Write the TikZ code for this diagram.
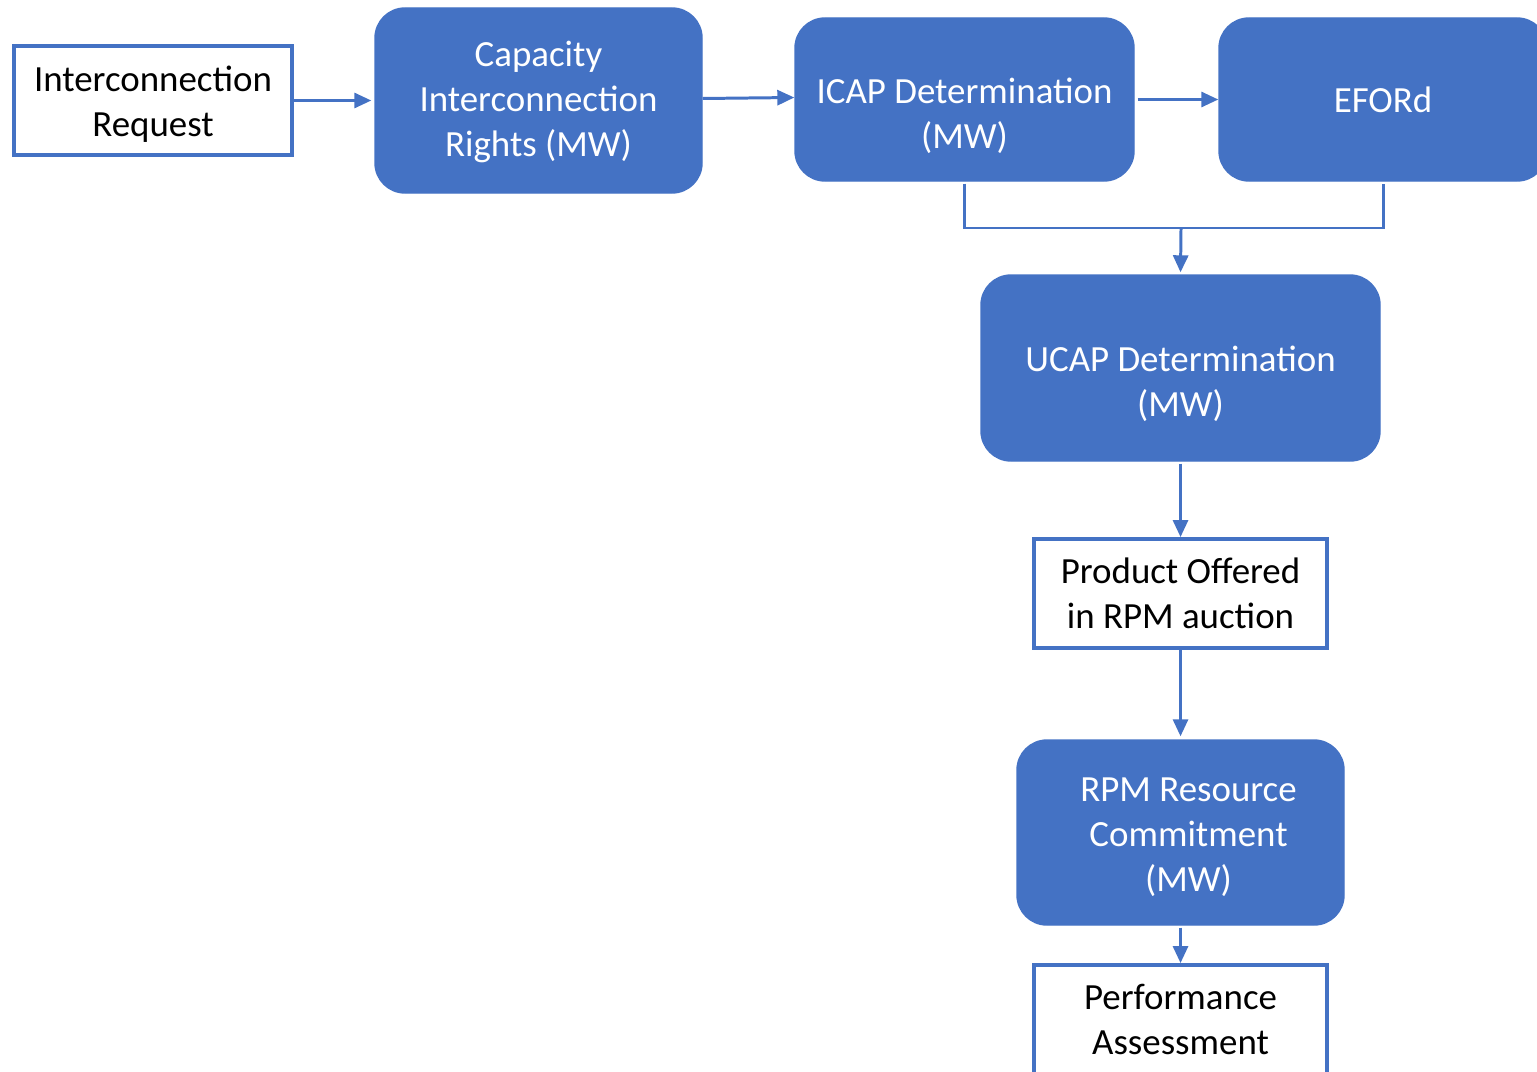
\documentclass[tikz,border=0pt]{standalone}
\usepackage{fontspec}
\setmainfont{Carlito}
\usepackage{xcolor}
\usepackage{tikz}
\usetikzlibrary{arrows.meta, positioning}
\definecolor{xanh}{HTML}{4472C4}

\begin{document}
\begin{tikzpicture}[>={Triangle[length=1.7mm, width=1.5mm]},
    font=\fontsize{10.5}{12.8}\selectfont,
    bluebox/.style={fill=xanh, draw=xanh, rounded corners=0.3cm, text=white, align=center},
    whitebox/.style={draw=xanh, line width=1.1pt, fill=white, align=center},
    lowtext/.style={label={[text=white, align=center, yshift=-1.6mm]center:#1}},
    conn/.style={draw=xanh, line width=0.85pt}]
    \useasboundingbox (0,0) rectangle (15.37,-10.71);
    
    % Hàng trên
    \node[whitebox, minimum width=2.78cm, minimum height=1.09cm,
        label={[align=center, yshift=-0.4mm]center:Interconnection\\Request}] (ir) at (1.53,-1.005) {};
    \node[bluebox, minimum width=3.27cm, minimum height=1.85cm, text depth=0.4mm] (cap) at (5.385,-1.005) {Capacity\\Interconnection\\Rights (MW)};
    \node[bluebox, minimum width=3.39cm, minimum height=1.63cm, lowtext={ICAP Determination\\(MW)}] (icap) at (9.645,-0.995) {};
    \node[bluebox, minimum width=3.28cm, minimum height=1.63cm] (eford) at (13.83,-0.995) {EFORd};
    
    % Cột bên phải
    \node[bluebox, minimum width=3.99cm, minimum height=1.86cm, lowtext={UCAP Determination\\(MW)}] (ucap) at (11.805,-3.68) {};
    \node[whitebox, minimum width=2.93cm, minimum height=1.09cm] (prod) at (11.805,-5.935) {Product Offered\\in RPM auction};
    \node[bluebox, minimum width=3.27cm, minimum height=1.85cm,
        label={[text=white, align=center, xshift=0.8mm, yshift=-0.5mm]center:RPM Resource\\Commitment\\(MW)}] (rpm) at (11.805,-8.325) {};
    \node[whitebox, minimum width=2.93cm, minimum height=1.09cm] (perf) at (11.805,-10.195) {Performance\\Assessment};
    
    % Mũi tên
    \draw[conn, ->] (ir.east) -- ([xshift=-0.3mm]cap.west);
    \draw[conn, ->] ([yshift=0.2mm]cap.east) -- ([yshift=0.2mm]icap.west);
    \draw[conn, ->] ([xshift=0.3mm]icap.east) -- (eford.west);
    \coordinate (merge) at (11.81,-2.28);
    \draw[conn] ([yshift=-0.2mm]icap.south) |- (merge) -| ([yshift=-0.2mm]eford.south);
    \draw[conn, ->] (merge) -- ([yshift=0.2mm]ucap.north);
    \draw[conn, ->] ([yshift=-0.2mm]ucap.south) -- (prod.north);
    \draw[conn, ->] (prod.south) -- ([yshift=0.3mm]rpm.north);
    \draw[conn, ->] ([yshift=-0.2mm]rpm.south) -- (perf.north);
\end{tikzpicture}
\end{document}
